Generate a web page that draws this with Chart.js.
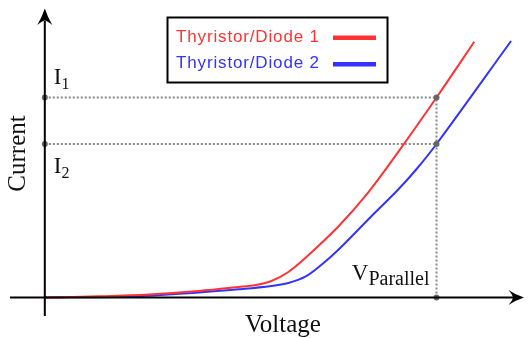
<!DOCTYPE html>
<html>
<head>
<meta charset="utf-8">
<script src="https://cdn.jsdelivr.net/npm/chart.js@4/dist/chart.umd.min.js"></script>
<style>
  html, body { margin: 0; padding: 0; background: #fff; overflow: hidden; }
  canvas { display: block; }
</style>
</head>
<body>
<canvas id="c" width="528" height="338"></canvas>
<script>
// ---- data (arbitrary units) ----
const seriesLabels = ['Thyristor/Diode 1', 'Thyristor/Diode 2'];
const voltage1 = [0, 0.55, 1.05, 1.55, 1.95, 2.12, 2.28, 2.45, 2.62, 2.95, 3.25, 3.55, 3.94, 4.32];
const current1 = [0, 0.012, 0.03, 0.065, 0.105, 0.125, 0.165, 0.255, 0.395, 0.708, 1.047, 1.449, 2.0, 2.558];
const voltage2 = [0, 0.88, 1.55, 1.95, 2.28, 2.45, 2.62, 2.78, 2.95, 3.28, 3.55, 3.74, 3.94, 4.69];
const current2 = [0, 0.01, 0.05, 0.082, 0.115, 0.145, 0.208, 0.325, 0.475, 0.808, 1.075, 1.285, 1.535, 2.565];
const vParallel = 3.94;
const iOne = 2.0;
const iTwo = 1.535;
const axisTitles = ['Voltage', 'Current'];
const markerLabels = { i1: ['I', '1'], i2: ['I', '2'], v: ['V', 'Parallel'] };

const RED = 'rgb(255,51,51)';
const BLUE = 'rgb(51,51,255)';
const GUIDE = '#8a8a8a';

function pts(xs, ys) { return xs.map((x, i) => ({ x, y: ys[i] })); }

const overlay = {
  id: 'overlay',
  afterDatasetsDraw(chart) {
    const ctx = chart.ctx;
    const xs = chart.scales.x, ys = chart.scales.y;
    const ca = chart.chartArea;
    const x0 = xs.getPixelForValue(0), y0 = ys.getPixelForValue(0);
    ctx.save();
    // axes
    ctx.strokeStyle = '#000';
    ctx.fillStyle = '#000';
    ctx.lineWidth = 2;
    ctx.beginPath();
    ctx.moveTo(x0, ca.bottom); ctx.lineTo(x0, ca.top + 13);
    ctx.moveTo(ca.left, y0); ctx.lineTo(ca.right - 11, y0);
    ctx.stroke();
    // arrowheads
    const tipY = ca.top + 0.5;
    ctx.beginPath();
    ctx.moveTo(x0, tipY);
    ctx.quadraticCurveTo(x0 + 3, tipY + 9, x0 + 7.5, tipY + 16.5);
    ctx.quadraticCurveTo(x0 + 3, tipY + 12.5, x0, tipY + 12);
    ctx.quadraticCurveTo(x0 - 3, tipY + 12.5, x0 - 7.5, tipY + 16.5);
    ctx.quadraticCurveTo(x0 - 3, tipY + 9, x0, tipY);
    ctx.closePath(); ctx.fill();
    const tipX = ca.right;
    ctx.beginPath();
    ctx.moveTo(tipX, y0);
    ctx.quadraticCurveTo(tipX - 9, y0 - 3, tipX - 15.5, y0 - 7.5);
    ctx.quadraticCurveTo(tipX - 11.5, y0 - 3, tipX - 11, y0);
    ctx.quadraticCurveTo(tipX - 11.5, y0 + 3, tipX - 15.5, y0 + 7.5);
    ctx.quadraticCurveTo(tipX - 9, y0 + 3, tipX, y0);
    ctx.closePath(); ctx.fill();

    // axis titles
    ctx.fillStyle = '#111';
    ctx.font = '25px "Liberation Serif", "Times New Roman", serif';
    ctx.textAlign = 'center';
    ctx.textBaseline = 'alphabetic';
    ctx.fillText(axisTitles[0], 283, 331.5);
    ctx.save();
    ctx.translate(24.5, 153.5);
    ctx.rotate(-Math.PI / 2);
    ctx.fillText(axisTitles[1], 0, 0);
    ctx.restore();

    // marker labels
    ctx.textAlign = 'left';
    const yI1 = ys.getPixelForValue(iOne), yI2 = ys.getPixelForValue(iTwo);
    const xV = xs.getPixelForValue(vParallel);
    function sub(lbl, x, y, big, small, drop) {
      ctx.font = big + 'px "Liberation Serif", serif';
      ctx.fillText(lbl[0], x, y);
      const w = ctx.measureText(lbl[0]).width;
      ctx.font = small + 'px "Liberation Serif", serif';
      ctx.fillText(lbl[1], x + w, y + drop);
      return w + ctx.measureText(lbl[1]).width;
    }
    sub(markerLabels.i1, x0 + 9, yI1 - 14, 23, 16, 5);
    sub(markerLabels.i2, x0 + 9, yI2 + 29, 23, 16, 5);
    ctx.font = '23px "Liberation Serif", serif';
    const wV = ctx.measureText(markerLabels.v[0]).width;
    ctx.font = '20px "Liberation Serif", serif';
    const wP = ctx.measureText(markerLabels.v[1]).width;
    sub(markerLabels.v, xV - 7 - wV - wP, y0 - 17.5, 23, 20, 5);

    // legend
    ctx.lineWidth = 2;
    ctx.strokeStyle = '#000';
    ctx.strokeRect(167.5, 17.5, 220, 65);
    ctx.font = '17px "Liberation Sans", Arial, sans-serif';
    const target = 143;
    chart.data.datasets.slice(0, 2).forEach((ds, i) => {
      const yb = 41.7 + i * 26.6;
      const w = ctx.measureText(ds.label).width;
      ctx.letterSpacing = ((target - w) / (ds.label.length - 1)).toFixed(2) + 'px';
      ctx.fillStyle = ds.borderColor;
      ctx.fillText(ds.label, 176, yb);
      ctx.letterSpacing = '0px';
      ctx.strokeStyle = ds.borderColor;
      ctx.lineWidth = 4.5;
      ctx.beginPath();
      ctx.moveTo(333, yb - 4); ctx.lineTo(376, yb - 4);
      ctx.stroke();
    });
    ctx.restore();
  }
};

new Chart(document.getElementById('c'), {
  type: 'scatter',
  data: {
    datasets: [
      { label: seriesLabels[0], data: pts(voltage1, current1), showLine: true, borderColor: RED, borderWidth: 2, pointRadius: 0, tension: 0.35, order: 1 },
      { label: seriesLabels[1], data: pts(voltage2, current2), showLine: true, borderColor: BLUE, borderWidth: 2, pointRadius: 0, tension: 0.35, order: 1 },
      { label: 'I1 guide', data: [{ x: 0, y: iOne }, { x: vParallel, y: iOne }], showLine: true, borderColor: GUIDE, borderWidth: 2, borderDash: [2, 2], pointRadius: 0, order: 2 },
      { label: 'I2 guide', data: [{ x: 0, y: iTwo }, { x: vParallel, y: iTwo }], showLine: true, borderColor: GUIDE, borderWidth: 2, borderDash: [2, 2], pointRadius: 0, order: 2 },
      { label: 'V guide', data: [{ x: vParallel, y: 0 }, { x: vParallel, y: iOne }], showLine: true, borderColor: GUIDE, borderWidth: 2, borderDash: [2, 2], pointRadius: 0, order: 2 },
      { label: 'markers', data: [{ x: 0, y: iOne }, { x: 0, y: iTwo }, { x: vParallel, y: iOne }, { x: vParallel, y: iTwo }, { x: vParallel, y: 0 }], showLine: false, pointRadius: 3, pointBackgroundColor: '#666', pointBorderWidth: 0, order: 0 }
    ]
  },
  options: {
    responsive: false,
    animation: false,
    layout: { padding: { left: 10, right: 1, top: 8, bottom: 22 } },
    plugins: { legend: { display: false }, tooltip: { enabled: false } },
    scales: {
      x: { type: 'linear', min: -0.35, max: 4.82, display: false },
      y: { type: 'linear', min: -0.185, max: 2.895, display: false }
    }
  },
  plugins: [overlay]
});
</script>
</body>
</html>
